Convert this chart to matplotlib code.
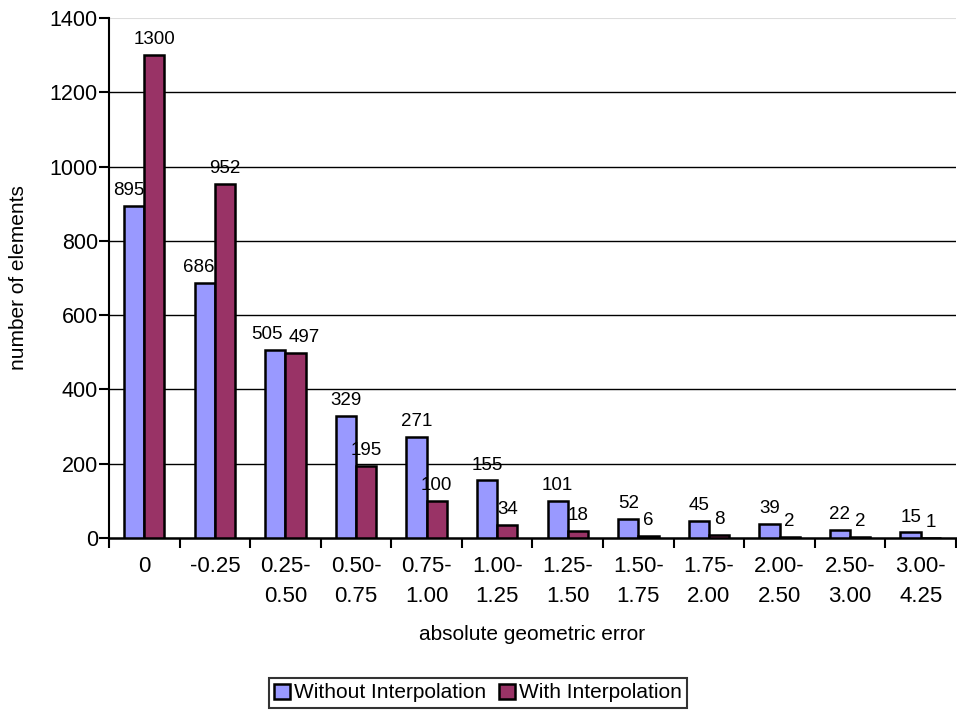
import numpy as np
import matplotlib
matplotlib.use("Agg")
import matplotlib.pyplot as plt

plt.rcParams['font.family'] = ['Liberation Sans', 'DejaVu Sans']

categories = ["0", "-0.25", "0.25-\n0.50", "0.50-\n0.75", "0.75-\n1.00", "1.00-\n1.25",
              "1.25-\n1.50", "1.50-\n1.75", "1.75-\n2.00", "2.00-\n2.50", "2.50-\n3.00", "3.00-\n4.25"]
without_interp = [895, 686, 505, 329, 271, 155, 101, 52, 45, 39, 22, 15]
with_interp = [1300, 952, 497, 195, 100, 34, 18, 6, 8, 2, 2, 1]
y_ticks = [0, 200, 400, 600, 800, 1000, 1200, 1400]

fig = plt.figure(figsize=(9.57, 7.19), dpi=100)
ax = fig.add_axes([0.1139, 0.2517, 0.885, 0.7233])

x = np.arange(len(categories))
w = 1 / 3.5
b1 = ax.bar(x - w / 2, without_interp, w, color='#9999FF', edgecolor='black', linewidth=1.8,
            label='Without Interpolation', zorder=3)
b2 = ax.bar(x + w / 2, with_interp, w, color='#993366', edgecolor='black', linewidth=1.8,
            label='With Interpolation', zorder=3)

# three-digit labels at nearly the same height are pushed apart sideways;
# a left label under a taller neighbour leans slightly left
for i, (a, b) in enumerate(zip(without_interp, with_interp)):
    for r, v, side in ((b1[i], a, -1), (b2[i], b, 1)):
        dx = 0
        if abs(a - b) < 30 and min(a, b) >= 100:
            dx = 6 * side
        elif side == -1 and b > a:
            dx = -4
        ax.annotate(str(v), (r.get_x() + r.get_width() / 2, v), xytext=(dx, 5),
                    textcoords='offset points', ha='center', va='bottom',
                    fontsize=13.5, zorder=4)

ax.set_xlim(-0.5, len(categories) - 0.5)
ax.set_ylim(0, 1400)
ax.set_yticks(y_ticks)
ax.tick_params(axis='y', labelsize=15.5, length=7, width=1.5, direction='out', pad=1)
for yv in y_ticks[1:-1]:
    ax.axhline(yv, color='black', linewidth=1, zorder=1)
ax.axhline(1400, color='#dddddd', linewidth=0.8, zorder=1)

ax.set_xticks(x)
ax.set_xticklabels(categories, fontsize=16, linespacing=1.55)
ax.tick_params(axis='x', length=0, pad=13)
ax.set_xticks(np.arange(len(categories) + 1) - 0.5, minor=True)
ax.tick_params(axis='x', which='minor', length=7, width=1.5, direction='out')

for s in ('top', 'right'):
    ax.spines[s].set_visible(False)
ax.spines['left'].set_linewidth(1.5)
ax.spines['bottom'].set_linewidth(1.8)

ax.set_ylabel('number of elements', fontsize=15)
ax.yaxis.set_label_coords(19 / 957, 1 - 278 / 719, transform=fig.transFigure)
ax.yaxis.label.set_va('center')
ax.set_xlabel('absolute geometric error', fontsize=15)
ax.xaxis.set_label_coords(532 / 957, 1 - 634 / 719, transform=fig.transFigure)
ax.xaxis.label.set_va('center')

leg = fig.legend(handles=[b1, b2], loc='center', bbox_to_anchor=(478 / 957, 1 - 693 / 719), ncol=2,
                 fontsize=15, frameon=True, fancybox=False, edgecolor='black',
                 handlelength=0.75, handleheight=0.75, handletextpad=0.2, columnspacing=0.6,
                 borderpad=0.25, borderaxespad=0)
leg.get_frame().set_linewidth(1.5)

fig.savefig('out.png', dpi=100)
